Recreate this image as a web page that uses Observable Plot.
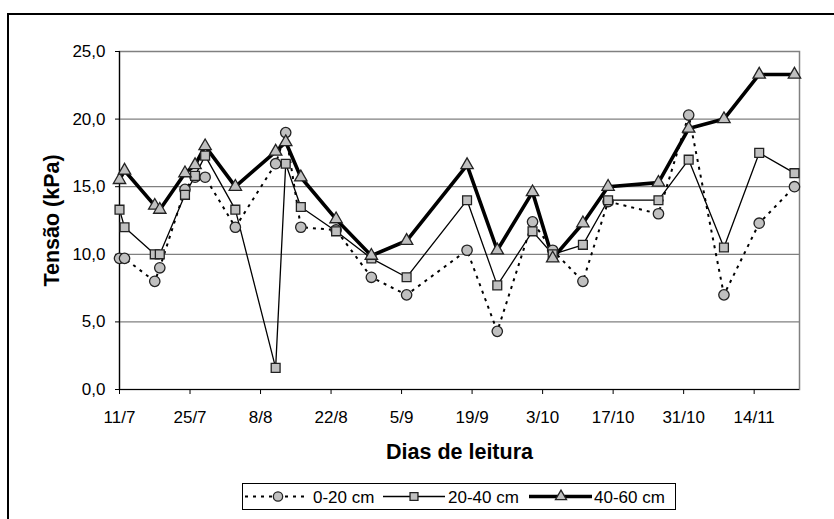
<!DOCTYPE html>
<html>
<head>
<meta charset="utf-8">
<script src="https://cdn.jsdelivr.net/npm/d3@7"></script>
<script src="https://cdn.jsdelivr.net/npm/@observablehq/plot@0.6"></script>
<style>
  html, body { margin: 0; padding: 0; background: #fff; overflow: hidden; }
  body { width: 834px; height: 519px; position: relative; font-family: "Liberation Sans", Arial, sans-serif; }
  #frame { position: absolute; left: 7px; top: 13px; width: 900px; height: 600px; border: 2.5px solid #000; box-sizing: border-box; }
  #chart { position: absolute; left: 0; top: 0; }
  #legend { position: absolute; left: 242px; top: 483px; }
</style>
</head>
<body>
<div id="frame"></div>
<div id="chart"></div>
<div id="legend"></div>
<script>
// ---- data ----
const dates = ["2002-07-11","2002-07-12","2002-07-18","2002-07-19","2002-07-24","2002-07-26","2002-07-28",
  "2002-08-03","2002-08-11","2002-08-13","2002-08-16","2002-08-23","2002-08-30","2002-09-06",
  "2002-09-18","2002-09-24","2002-10-01","2002-10-05","2002-10-11","2002-10-16","2002-10-26",
  "2002-11-01","2002-11-08","2002-11-15","2002-11-22"];
const s0_20  = [9.7, 9.7, 8.0, 9.0, 14.8, 15.7, 15.7, 12.0, 16.7, 19.0, 12.0, 11.8, 8.3, 7.0, 10.3, 4.3, 12.4, 10.3, 8.0, 13.9, 13.0, 20.3, 7.0, 12.3, 15.0];
const s20_40 = [13.3, 12.0, 10.0, 10.0, 14.4, 15.8, 17.3, 13.3, 1.6, 16.7, 13.5, 11.7, 9.7, 8.3, 14.0, 7.7, 11.7, 10.0, 10.7, 14.0, 14.0, 17.0, 10.5, 17.5, 16.0];
const s40_60 = [15.5, 16.2, 13.6, 13.3, 16.0, 16.6, 18.0, 15.0, 17.6, 18.3, 15.7, 12.6, 9.9, 11.0, 16.6, 10.3, 14.6, 9.7, 12.3, 15.0, 15.3, 19.3, 20.0, 23.3, 23.3];
const seriesNames = ["0-20 cm", "20-40 cm", "40-60 cm"];
const xTickDates = ["2002-07-11","2002-07-25","2002-08-08","2002-08-22","2002-09-05","2002-09-19",
  "2002-10-03","2002-10-17","2002-10-31","2002-11-14"];
const yTicks = [0, 5, 10, 15, 20, 25];
const xDomain = ["2002-07-11", "2002-11-23"];
const yTitle = "Tensão (kPa)";
const xTitle = "Dias de leitura";

// ---- build table ----
const parse = s => new Date(s + "T00:00:00Z");
const allValues = [s0_20, s20_40, s40_60];
const rows = [];
allValues.forEach((vals, si) => vals.forEach((v, i) => rows.push({date: parse(dates[i]), value: v, series: seriesNames[si]})));
const bySeries = name => rows.filter(r => r.series === name);

const styles = {
  "0-20 cm":  {strokeWidth: 2, dash: "3,5", symbol: "circle", r: 5.2},
  "20-40 cm": {strokeWidth: 1.3, dash: null, symbol: "square", r: 5.0},
  "40-60 cm": {strokeWidth: 3.6, dash: null, symbol: "triangle", r: 4.6}
};
const fillGray = "#c0c0c0";
const fmt = d => d.toFixed(1).replace(".", ",");
const fmtDate = d => `${d.getUTCDate()}/${d.getUTCMonth() + 1}`;

const marks = [
  Plot.ruleY(yTicks.filter(t => t > 0), {stroke: "#808080", strokeWidth: 1.2}),
  Plot.frame({stroke: "#808080", strokeWidth: 1.5}),
  Plot.axisY({ticks: yTicks, tickFormat: fmt, tickSize: 4, tickPadding: 10, label: null, fontSize: 17}),
  Plot.axisX({ticks: xTickDates.map(parse), tickFormat: fmtDate, tickSize: 5, tickPadding: 16, label: null, fontSize: 17}),
  Plot.ruleX([parse(xDomain[0])], {stroke: "#000", strokeWidth: 1.2}),
  Plot.ruleY([0], {stroke: "#000", strokeWidth: 1.2}),
];
for (const name of seriesNames) {
  const st = styles[name];
  marks.push(Plot.line(bySeries(name), {x: "date", y: "value", stroke: "#000", strokeWidth: st.strokeWidth,
    strokeDasharray: st.dash || undefined, strokeLinejoin: "miter", strokeLinecap: "butt"}));
}
for (const name of seriesNames) {
  const st = styles[name];
  marks.push(Plot.dot(bySeries(name), {x: "date", y: "value", symbol: st.symbol, r: st.r,
    fill: fillGray, stroke: "#222", strokeWidth: 1.3}));
}
marks.push(Plot.text([yTitle], {text: d => d, frameAnchor: "left", dx: -67, rotate: -90,
  textAnchor: "middle", lineAnchor: "middle", fontSize: 21.5, fontWeight: "bold", fill: "#000"}));
marks.push(Plot.text([xTitle], {text: d => d, frameAnchor: "bottom", dy: 63,
  textAnchor: "middle", lineAnchor: "middle", fontSize: 21.5, fontWeight: "bold", fill: "#000"}));

const chart = Plot.plot({
  width: 834,
  height: 470,
  marginLeft: 119,
  marginRight: 35,
  marginTop: 51,
  marginBottom: 81,
  style: {fontFamily: "'Liberation Sans', Arial, sans-serif", fontSize: "17px", color: "#000", background: "transparent", overflow: "visible"},
  x: {type: "utc", domain: xDomain.map(parse)},
  y: {domain: [0, 25]},
  marks
});
document.getElementById("chart").appendChild(chart);

// ---- legend (HTML/SVG below the plot) ----
const legendItems = [
  {name: "0-20 cm",  line: [3, 66],   marker: 36,  text: 71},
  {name: "20-40 cm", line: [141, 203], marker: 172, text: 206},
  {name: "40-60 cm", line: [287, 350], marker: 319, text: 352}
];
const lw = 434, lh = 27;
const lsvg = d3.select("#legend").append("svg").attr("width", lw).attr("height", lh)
  .style("font-family", "'Liberation Sans', Arial, sans-serif");
lsvg.append("rect").attr("x", 0.5).attr("y", 0.5).attr("width", lw - 1).attr("height", lh - 1)
  .attr("fill", "#fff").attr("stroke", "#000").attr("stroke-width", 1);
for (const it of legendItems) {
  const st = styles[it.name];
  const cy = lh / 2;
  lsvg.append("line").attr("x1", it.line[0]).attr("x2", it.line[1]).attr("y1", cy).attr("y2", cy)
    .attr("stroke", "#000").attr("stroke-width", st.strokeWidth).attr("stroke-dasharray", st.dash);
  const sym = {circle: d3.symbolCircle, square: d3.symbolSquare, triangle: d3.symbolTriangle}[st.symbol];
  lsvg.append("path").attr("transform", `translate(${it.marker},${cy})`)
    .attr("d", d3.symbol(sym, Math.PI * st.r * st.r * 0.8)())
    .attr("fill", fillGray).attr("stroke", "#222").attr("stroke-width", 1.3);
  lsvg.append("text").attr("x", it.text).attr("y", cy).attr("dy", "0.36em")
    .attr("font-size", 17).attr("fill", "#000").text(it.name);
}
</script>
</body>
</html>
